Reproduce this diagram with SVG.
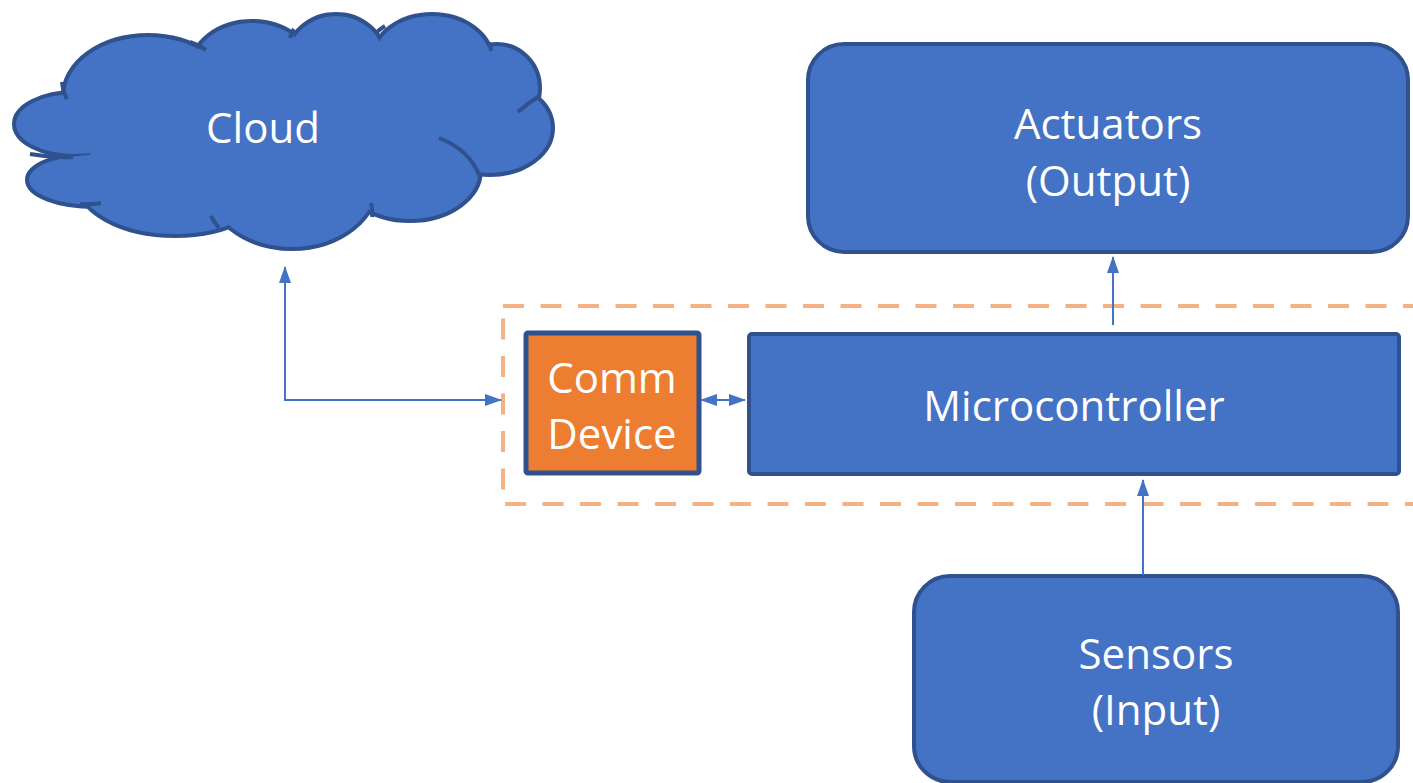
<svg xmlns="http://www.w3.org/2000/svg" xmlns:xlink="http://www.w3.org/1999/xlink" width="1413" height="783" viewBox="0 0 1413 783">
  <style>
    .box { fill: #4472C4; stroke: #2F528F; stroke-width: 4; }
    .comm { fill: #ED7D31; stroke: #2F528F; stroke-width: 5; }
    .label { fill: #FFFFFF; font-family: "Open Sans", "Noto Sans", sans-serif; font-size: 42px; text-anchor: middle; }
    .conn { fill: none; stroke: #4472C4; stroke-width: 2; }
    .group { fill: none; stroke: #F4B183; stroke-width: 4; stroke-dasharray: 21 16.5; }
    .cloud-back { fill: #4472C4; stroke: #2F528F; stroke-width: 8; }
    .cloud-front { fill: #4472C4; stroke: none; }
    .crease { fill: none; stroke: #2F528F; stroke-width: 4; }
  </style>
  <defs>
    <marker id="arrow" markerUnits="userSpaceOnUse" markerWidth="17" markerHeight="12" refX="16" refY="6" orient="auto-start-reverse">
      <path d="M0,0 L17,6 L0,12 z" fill="#4472C4"/>
    </marker>
    <g id="lobes">
      <ellipse cx="75" cy="124" rx="59" ry="30"/>
      <ellipse cx="95" cy="180" rx="66" ry="25"/>
      <ellipse cx="175" cy="180" rx="97" ry="54"/>
      <ellipse cx="292" cy="180" rx="85" ry="67"/>
      <ellipse cx="410" cy="170" rx="69" ry="49"/>
      <ellipse cx="490" cy="128" rx="61" ry="45"/>
      <ellipse cx="497" cy="88" rx="41" ry="42"/>
      <ellipse cx="432" cy="62" rx="59" ry="46"/>
      <ellipse cx="336" cy="58" rx="47" ry="42"/>
      <ellipse cx="252" cy="68" rx="59" ry="45"/>
      <ellipse cx="148" cy="96" rx="83" ry="59"/>
    </g>
  </defs>

  <g id="group-boundary">
    <rect class="group" x="503" y="306" width="1000" height="198"/>
  </g>

  <g id="cloud">
    <use xlink:href="#lobes" href="#lobes" class="cloud-back"/>
    <use xlink:href="#lobes" href="#lobes" class="cloud-front"/>
    <ellipse class="cloud-front" cx="280" cy="135" rx="190" ry="75"/>
    <path class="crease" d="M62,82 Q63,92 67,99"/>
    <path class="crease" d="M30,154 Q52,158 73,157"/>
    <path class="crease" d="M80,204 Q92,205 101,203"/>
    <path class="crease" d="M211,216 Q214,222 219,228"/>
    <path class="crease" d="M371,203 Q373,210 372,217"/>
    <path class="crease" d="M439,138 Q470,150 480,177"/>
    <path class="crease" d="M538,97 Q528,103 518,112"/>
    <path class="crease" d="M489,43 Q491,47 491,51"/>
    <path class="crease" d="M376,33 Q380,29 385,26"/>
    <path class="crease" d="M290,38 Q291,33 294,29"/>
    <path class="crease" d="M190,42 Q199,45 206,50"/>
    <text class="label" x="263" y="143">Cloud</text>
  </g>

  <g id="actuators">
    <rect class="box" x="808" y="44" width="600" height="208" rx="36" ry="36"/>
    <text class="label" x="1108" y="139">Actuators</text>
    <text class="label" x="1108" y="196">(Output)</text>
  </g>

  <g id="microcontroller">
    <rect class="box" x="749" y="334" width="650" height="140" rx="3" ry="3"/>
    <text class="label" x="1074" y="421">Microcontroller</text>
  </g>

  <g id="comm-device">
    <rect class="comm" x="526" y="333" width="173" height="140" rx="2" ry="2"/>
    <text class="label" x="612" y="393">Comm</text>
    <text class="label" x="612" y="449">Device</text>
  </g>

  <g id="sensors">
    <rect class="box" x="914" y="576" width="484" height="206" rx="36" ry="36"/>
    <text class="label" x="1156" y="669">Sensors</text>
    <text class="label" x="1156" y="725">(Input)</text>
  </g>

  <g id="connectors">
    <path class="conn" d="M285,267 V400 H501" marker-start="url(#arrow)" marker-end="url(#arrow)"/>
    <path class="conn" d="M701,400 H745" marker-start="url(#arrow)" marker-end="url(#arrow)"/>
    <path class="conn" d="M1113,325 V257" marker-end="url(#arrow)"/>
    <path class="conn" d="M1143,575 V480" marker-end="url(#arrow)"/>
  </g>
</svg>
